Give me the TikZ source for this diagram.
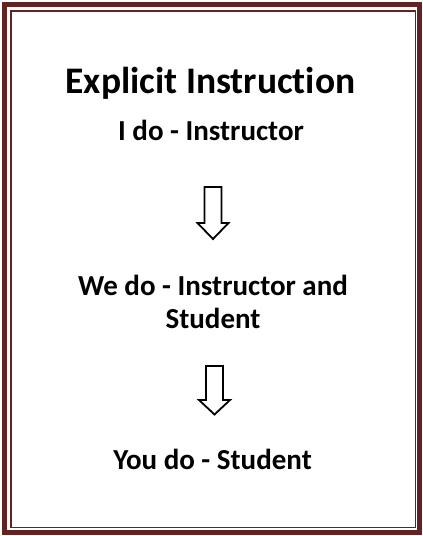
\documentclass[tikz,border=0pt]{standalone}
\usepackage{fontspec}
\setmainfont{Carlito}[Ligatures={NoCommon}]
\definecolor{maroon}{HTML}{622423}
\begin{document}
\begin{tikzpicture}[x=1pt,y=-1pt,
  titletext/.style={anchor=base,font=\fontsize{37.5}{45}\selectfont\bfseries},
  steptext/.style={anchor=base,align=center,font=\fontsize{29}{33}\selectfont\bfseries},
  blockarrow/.style={draw=black,line width=1.8pt,line join=miter,fill=white},
  outerframe/.style={draw=maroon,line width=5.4pt},
  innerframe/.style={draw=maroon,line width=1.6pt}]
\useasboundingbox (0,0) rectangle (423,536);
\draw[outerframe] (4.5,4.5) rectangle (419.4,532.4);
\draw[innerframe] (10.9,11) rectangle (415.3,527.6);
\node[titletext] (title) at (210.5,93) {Explicit Instruction};
\node[steptext] (ido) at (211,140) {I do - Instructor};
\node[steptext] (wedo) at (213,328) {We do - Instructor and\\Student};
\node[steptext] (youdo) at (212.5,469) {You do - Student};
\coordinate (a1) at (213,187);
\coordinate (a2) at (214.5,366);
\draw[blockarrow] (a1) ++(-8.5,0) -- ++(0,36) -- ++(-7,0) -- ++(15.5,16) -- ++(15.5,-16) -- ++(-7,0) -- ++(0,-36) -- cycle;
\draw[blockarrow] (a2) ++(-8.5,0) -- ++(0,34) -- ++(-7,0) -- ++(15.5,14.5) -- ++(15.5,-14.5) -- ++(-7,0) -- ++(0,-34) -- cycle;
\end{tikzpicture}
\end{document}
